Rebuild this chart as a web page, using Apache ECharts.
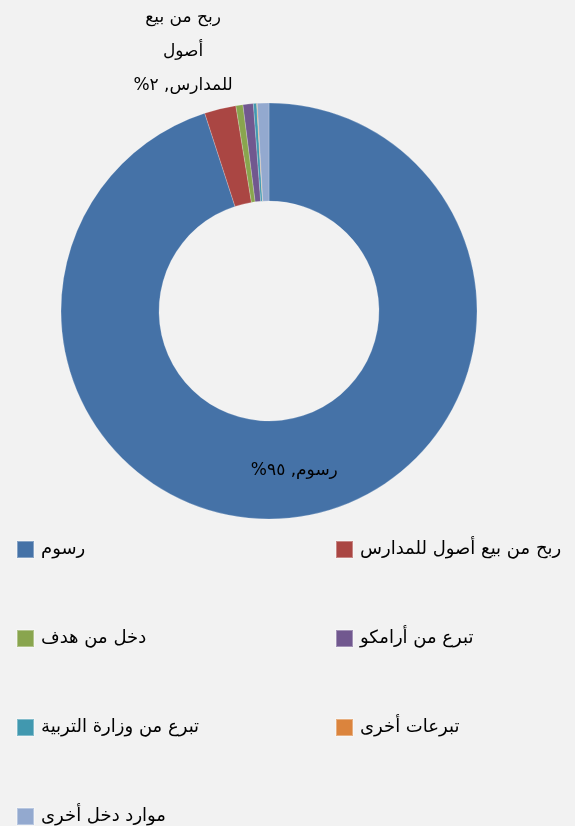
<!DOCTYPE html>
<html>
<head>
<meta charset="utf-8">
<script src="https://cdn.jsdelivr.net/npm/echarts@6/dist/echarts.min.js"></script>
<style>
  html, body { margin: 0; padding: 0; background: #f2f2f2; }
  #main { width: 575px; height: 826px; }
</style>
</head>
<body>
<div id="main" dir="rtl"></div>
<script>
const names = ['رسوم', 'ربح من بيع أصول للمدارس', 'دخل من هدف', 'تبرع من أرامكو', 'تبرع من وزارة التربية', 'تبرعات أخرى', 'موارد دخل أخرى']
const values = [95.0, 2.45, 0.55, 0.8, 0.25, 0.05, 0.9]
const colors = ['#4572a7', '#aa4643', '#89a54e', '#71588f', '#4198af', '#db843d', '#93a9cf']
// only these slices carry a data label in the original
const labelled = [0, 1]
const labelLines = { 1: ['ربح من بيع', 'أصول', 'للمدارس'] }

const font = 'DejaVu Sans'
const arabicDigits = s => String(s).replace(/[0-9]/g, d => '٠١٢٣٤٥٦٧٨٩'[d])

const chart = echarts.init(document.getElementById('main'))

const data = names.map((n, i) => ({
    name: n,
    value: values[i],
    itemStyle: { color: colors[i] },
    label: { show: labelled.indexOf(i) >= 0, position: i === 0 ? 'inside' : 'outside' }
}))

// legend in two columns, the 7th entry gets its own box so it does not wrap
const leftCol = names.filter((n, i) => i % 2 === 0 && i < 6)
const rightCol = names.filter((n, i) => i % 2 === 1)
const lastRow = names.slice(6)

const rowPitch = 89
const legendTop = 535

const legendBase = {
    orient: 'vertical',
    padding: 5,
    itemGap: 70,
    itemWidth: 17,
    itemHeight: 17,
    icon: 'rect',
    selectedMode: false,
    textStyle: { fontFamily: font, fontSize: 18, lineHeight: 17, color: '#000', padding: [0, 0, 0, 2] }
}

chart.setOption({
    backgroundColor: '#f2f2f2',
    color: colors,
    animation: false,
    legend: [
        Object.assign({}, legendBase, { left: 11, top: legendTop, data: leftCol }),
        Object.assign({}, legendBase, { left: 330, top: legendTop, data: rightCol }),
        Object.assign({}, legendBase, { left: 11, top: legendTop + 3 * rowPitch, data: lastRow })
    ],
    series: [{
        type: 'pie',
        center: [269, 311],
        radius: [110, 208],
        startAngle: 90,
        clockwise: true,
        avoidLabelOverlap: false,
        itemStyle: { borderColor: 'rgba(255,255,255,0.35)', borderWidth: 0.6 },
        label: {
            color: '#000',
            fontFamily: font,
            fontSize: 17,
            lineHeight: 34,
            formatter: p => {
                const pct = arabicDigits(Math.round(p.percent)) + '%'
                const lines = labelLines[p.dataIndex]
                if (lines) {
                    const l = lines.slice()
                    l[l.length - 1] = l[l.length - 1] + ', ' + pct
                    return l.join('\n')
                }
                return p.name + ', ' + pct
            }
        },
        labelLine: { show: false, length: 30, length2: 10 },
        labelLayout: p => p.dataIndex === 1 ? { align: 'center', dx: -15, dy: -28 } : {},
        data: data
    }]
})
</script>
</body>
</html>
